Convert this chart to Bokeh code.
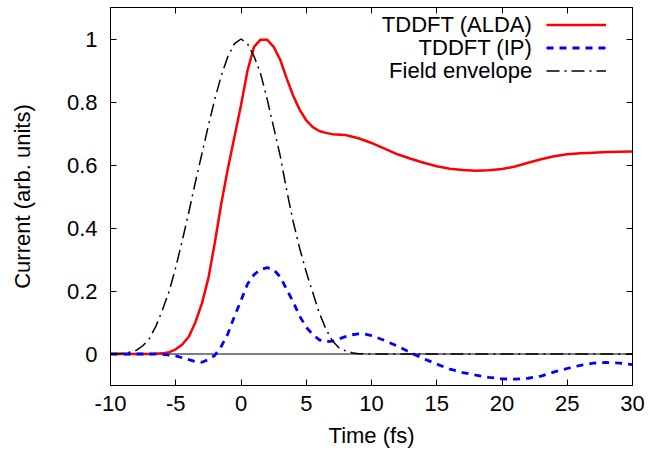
from bokeh.plotting import figure
from bokeh.models import Range1d, FixedTicker, LinearAxis, Span, Legend, LegendItem, Label
from bokeh.embed import file_html
from bokeh.resources import INLINE

# ---- data ----
alda_t = [-10, -7, -6, -5.5, -5, -4.5, -4, -3.5, -3, -2.5, -2, -1.5, -1, -0.5, 0, 0.5, 1, 1.5, 2, 2.5,
          3, 3.5, 4, 4.5, 5, 5.5, 6, 6.5, 7, 8, 9, 10, 11, 12, 13, 14, 15, 16, 17, 18, 19, 20, 21, 22, 23,
          24, 25, 26, 27, 28, 29, 30]
alda_v = [0, 0, 0.002, 0.006, 0.015, 0.03, 0.055, 0.1, 0.16, 0.24, 0.355, 0.48, 0.59, 0.69, 0.79, 0.9,
          0.975, 0.998, 0.998, 0.975, 0.935, 0.875, 0.82, 0.775, 0.742, 0.72, 0.708, 0.702, 0.698, 0.695,
          0.685, 0.67, 0.652, 0.634, 0.62, 0.607, 0.596, 0.588, 0.584, 0.582, 0.583, 0.587, 0.595, 0.607,
          0.618, 0.628, 0.634, 0.637, 0.639, 0.641, 0.642, 0.643]

ip_t = [-10, -7, -6, -5, -4, -3.5, -3, -2.5, -2, -1.5, -1, -0.5, 0, 0.5, 1, 1.5, 2, 2.5, 3, 3.5, 4,
        4.5, 5, 5.5, 6, 6.5, 7, 7.5, 8, 8.5, 9, 9.5, 10, 10.5, 11, 12, 13, 14, 15, 16, 17, 18, 19, 20,
        21, 22, 23, 24, 25, 26, 27, 28, 29, 30]
ip_v = [0, 0, -0.001, -0.006, -0.018, -0.024, -0.026, -0.018, -0.004, 0.025, 0.065, 0.12, 0.17, 0.222,
        0.252, 0.268, 0.274, 0.268, 0.245, 0.205, 0.165, 0.12, 0.085, 0.062, 0.045, 0.039, 0.041, 0.048,
        0.055, 0.061, 0.064, 0.063, 0.058, 0.051, 0.043, 0.025, 0.004, -0.015, -0.032, -0.048, -0.059,
        -0.067, -0.074, -0.079, -0.08, -0.077, -0.07, -0.057, -0.046, -0.036, -0.029, -0.027, -0.029,
        -0.034]

env_t = [-10, -9, -8.5, -8, -7.5, -7, -6.5, -6, -5.5, -5, -4.5, -4, -3.5, -3, -2.5, -2, -1.5, -1, -0.5,
         0, 0.5, 1, 1.5, 2, 2.5, 3, 3.5, 4, 4.5, 5, 5.5, 6, 6.5, 7, 7.5, 8, 8.5, 9, 10, 15, 20, 25, 30]
env_v = [0, 0.002, 0.006, 0.012, 0.027, 0.05, 0.09, 0.142, 0.2, 0.275, 0.36, 0.45, 0.545, 0.635, 0.725,
         0.81, 0.885, 0.945, 0.985, 1.0, 0.985, 0.945, 0.89, 0.81, 0.72, 0.63, 0.52, 0.42, 0.335, 0.26,
         0.195, 0.13, 0.08, 0.042, 0.02, 0.01, 0.004, 0.001, 0, 0, 0, 0, 0]

series_names = ["TDDFT (ALDA)", "TDDFT (IP)", "Field envelope"]

x_ticks = [-10, -5, 0, 5, 10, 15, 20, 25, 30]
x_tick_labels = ["-10", "-5", "0", "5", "10", "15", "20", "25", "30"]
y_ticks = [0, 0.2, 0.4, 0.6, 0.8, 1.0]
y_tick_labels = ["0", "0.2", "0.4", "0.6", "0.8", "1"]

FONT = "Liberation Sans"
FS = "22px"

p = figure(width=650, height=454,
           x_range=Range1d(-10, 30), y_range=Range1d(-0.1, 1.1),
           output_backend="svg", toolbar_location=None,
           min_border_left=110, min_border_right=18, min_border_top=7, min_border_bottom=69)
p.xgrid.visible = False
p.ygrid.visible = False
p.outline_line_color = "black"
p.outline_line_width = 1
p.background_fill_color = "white"
p.border_fill_color = "white"

p.add_layout(Span(location=0, dimension="width", line_color="black", line_width=1, level="underlay"))

r1 = p.line(alda_t, alda_v, line_color="#ff0000", line_width=2.5)
r2 = p.line(ip_t, ip_v, line_color="#0000ff", line_width=2.8, line_dash="7 6")
r3 = p.line(env_t, env_v, line_color="black", line_width=1.5, line_dash="13 5 2 5")

def style_axis(ax, show_labels=True):
    ax.major_tick_in = 6
    ax.major_tick_out = 0
    ax.minor_tick_in = 0
    ax.minor_tick_out = 0
    ax.major_tick_line_color = "black"
    ax.axis_line_color = "black"
    ax.major_label_text_font = FONT
    ax.axis_label_text_font = FONT
    ax.axis_label_text_font_size = FS
    ax.axis_label_text_font_style = "normal"
    ax.axis_label_text_color = "black"
    if show_labels:
        ax.major_label_text_font_size = FS
        ax.major_label_text_color = "black"
    else:
        ax.major_label_text_font_size = "1px"
        ax.major_label_text_color = None
        ax.major_label_standoff = 0

xb = p.xaxis[0]
xb.ticker = FixedTicker(ticks=x_ticks)
xb.major_label_overrides = {v: s for v, s in zip(x_ticks, x_tick_labels)}
style_axis(xb)
xb.axis_label = "Time (fs)"
xb.major_label_standoff = 10
xb.axis_label_standoff = 9

yl = p.yaxis[0]
yl.ticker = FixedTicker(ticks=y_ticks)
yl.major_label_overrides = {v: s for v, s in zip(y_ticks, y_tick_labels)}
style_axis(yl)
yl.axis_label = "Current (arb. units)"
yl.major_label_standoff = 13
yl.axis_label_standoff = 29

xt = LinearAxis(ticker=FixedTicker(ticks=x_ticks))
style_axis(xt, show_labels=False)
p.add_layout(xt, "above")
yr = LinearAxis(ticker=FixedTicker(ticks=y_ticks))
style_axis(yr, show_labels=False)
p.add_layout(yr, "right")

# legend in gnuplot style: sample lines from a Legend, right-aligned texts as Labels to their left
# (positions in px from the frame's bottom-left corner)
legend = Legend(items=[LegendItem(label=" ", renderers=[r]) for r in (r1, r2, r3)],
                location=(435.7, 303.5), glyph_width=60, glyph_height=23,
                label_width=0, label_height=23, label_standoff=0,
                padding=0, margin=0, spacing=0,
                border_line_alpha=0, background_fill_alpha=0,
                label_text_font_size="1px", label_text_color=None)
p.add_layout(legend)

label_y = [361, 338.5, 315.5]
for name, yy in zip(series_names, label_y):
    p.add_layout(Label(x=421.7, y=yy, x_units="screen", y_units="screen", text=name,
                       text_align="right", text_baseline="middle",
                       text_font=FONT, text_font_size=FS, text_color="black"))

open("out.html", "w").write(file_html(p, INLINE))
